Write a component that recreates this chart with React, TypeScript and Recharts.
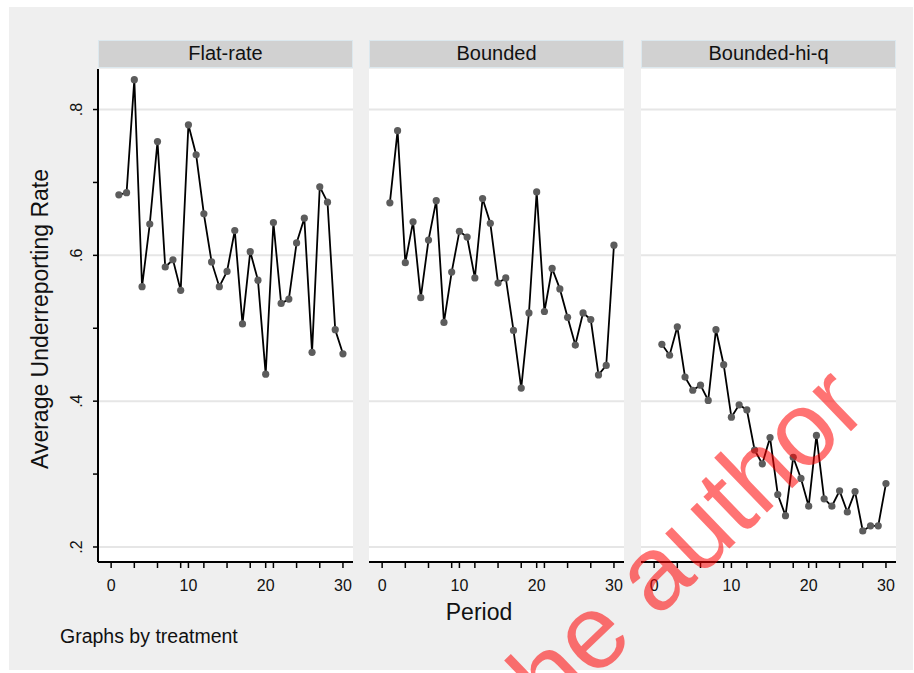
import React from "react";
import { LineChart, Line, XAxis, YAxis, CartesianGrid } from "recharts";

// Average underreporting rate by period, one series per treatment
const periods = [
  1, 2, 3, 4, 5, 6, 7, 8, 9, 10, 11, 12, 13, 14, 15, 16, 17, 18, 19, 20, 21, 22,
  23, 24, 25, 26, 27, 28, 29, 30,
];
const flatRate = [
  0.683, 0.686, 0.841, 0.557, 0.643, 0.756, 0.584, 0.594, 0.552, 0.779, 0.738,
  0.657, 0.591, 0.557, 0.578, 0.634, 0.506, 0.605, 0.566, 0.437, 0.645, 0.534,
  0.54, 0.617, 0.651, 0.467, 0.694, 0.673, 0.498, 0.465,
];
const bounded = [
  0.672, 0.771, 0.59, 0.646, 0.542, 0.621, 0.675, 0.508, 0.577, 0.633, 0.625,
  0.569, 0.678, 0.644, 0.562, 0.569, 0.497, 0.418, 0.521, 0.687, 0.523, 0.582,
  0.554, 0.515, 0.477, 0.521, 0.512, 0.436, 0.449, 0.614,
];
const boundedHiQ = [
  0.478, 0.463, 0.502, 0.433, 0.415, 0.422, 0.401, 0.498, 0.45, 0.378, 0.395,
  0.388, 0.333, 0.314, 0.35, 0.272, 0.243, 0.323, 0.294, 0.256, 0.353, 0.266,
  0.256, 0.277, 0.248, 0.276, 0.222, 0.229, 0.229, 0.287,
];
const panelTitles = ["Flat-rate", "Bounded", "Bounded-hi-q"];
const xTicks = [0, 3, 6, 9, 10, 12, 15, 18, 20, 21, 24, 27, 30];
const xLabels = [0, 10, 20, 30];
const yTicks = [0.2, 0.3, 0.4, 0.5, 0.6, 0.7, 0.8];
const yLabels = [0.2, 0.4, 0.6, 0.8];

const FONT = '"Liberation Sans", Arial, sans-serif';
const PLOT_TOP = 69;
const PLOT_H = 493;
const PLOT_W = 255;
const AXIS_H = 50;
const YAXIS_W = 60;
const panelLefts = [98, 369, 641];

const XTick = ({ x, y, payload }: any) => {
  if (!xLabels.includes(payload.value)) return <g />;
  return (
    <text x={x} y={y + 21} textAnchor="middle" fontSize={16} fontFamily={FONT} fill="#111">
      {payload.value}
    </text>
  );
};

const YTick = ({ y, payload }: any) => {
  if (!yLabels.some((v) => Math.abs(v - payload.value) < 1e-6)) return <g />;
  const bx = YAXIS_W - 16;
  return (
    <text
      x={bx}
      y={y}
      transform={`rotate(-90, ${bx}, ${y})`}
      textAnchor="middle"
      fontSize={16}
      fontFamily={FONT}
      fill="#111"
    >
      {String(payload.value.toFixed(1)).replace(/^0/, "")}
    </text>
  );
};

const Panel = ({ values, left, showY }: { values: number[]; left: number; showY: boolean }) => {
  const data = periods.map((p, i) => ({ period: p, rate: values[i] }));
  const yw = showY ? YAXIS_W : 0;
  return (
    <div style={{ position: "absolute", left: left - yw, top: PLOT_TOP }}>
      <LineChart
        width={PLOT_W + yw}
        height={PLOT_H + AXIS_H}
        data={data}
        margin={{ top: 0, right: 0, bottom: 0, left: 0 }}
      >
        <CartesianGrid
          vertical={false}
          horizontalValues={yLabels}
          stroke="#e6e6e6"
          strokeWidth={2}
          fill="#ffffff"
        />
        <XAxis
          dataKey="period"
          type="number"
          domain={[-1.7, 31.3]}
          allowDataOverflow
          ticks={xTicks}
          interval={0}
          height={AXIS_H}
          tickSize={6}
          tickMargin={2}
          axisLine={{ stroke: "#000", strokeWidth: 2 }}
          tickLine={{ stroke: "#000", strokeWidth: 1.5 }}
          tick={<XTick />}
        />
        <YAxis
          type="number"
          domain={[0.1794, 0.8556]}
          allowDataOverflow
          ticks={yTicks}
          interval={0}
          hide={!showY}
          width={YAXIS_W}
          tickSize={5}
          axisLine={{ stroke: "#000", strokeWidth: 2 }}
          tickLine={{ stroke: "#000", strokeWidth: 1.5 }}
          tick={<YTick />}
        />
        <Line
          type="linear"
          dataKey="rate"
          stroke="#000"
          strokeWidth={1.8}
          dot={{ r: 3.6, fill: "#5c5c5c", stroke: "none" }}
          isAnimationActive={false}
        />
      </LineChart>
    </div>
  );
};

export default function App() {
  const series = [flatRate, bounded, boundedHiQ];
  return (
    <div
      style={{
        position: "absolute",
        left: 0,
        top: 0,
        width: 914,
        height: 673,
        background: "#fff",
        overflow: "hidden",
        fontFamily: FONT,
      }}
    >
      <svg width={914} height={673} style={{ position: "absolute", left: 0, top: 0 }}>
        <rect x={9} y={7} width={904} height={663} fill="#efefef" />
        {panelTitles.map((t, i) => (
          <g key={t}>
            <rect
              x={panelLefts[i] + 0.5}
              y={40.5}
              width={PLOT_W - 1}
              height={27}
              fill="#d1d1d1"
              stroke="#dce8ee"
            />
            <text
              x={panelLefts[i] + PLOT_W / 2}
              y={60}
              textAnchor="middle"
              fontSize={20}
              fontFamily={FONT}
              fill="#111"
            >
              {t}
            </text>
          </g>
        ))}
        <text
          x={48}
          y={319}
          transform="rotate(-90, 48, 319)"
          textAnchor="middle"
          fontSize={23}
          fontFamily={FONT}
          fill="#111"
        >
          Average Underreporting Rate
        </text>
        <text x={479} y={620} textAnchor="middle" fontSize={23} fontFamily={FONT} fill="#111">
          Period
        </text>
        <text x={60} y={643} fontSize={19.5} fontFamily={FONT} fill="#111">
          Graphs by treatment
        </text>
      </svg>
      {series.map((s, i) => (
        <Panel key={i} values={s} left={panelLefts[i]} showY={i === 0} />
      ))}
      <svg
        width={914}
        height={673}
        style={{ position: "absolute", left: 0, top: 0, pointerEvents: "none" }}
      >
        <text
          x={871}
          y={412}
          transform="rotate(-44, 871, 412)"
          textAnchor="end"
          fontSize={105}
          fontFamily={FONT}
          fill="#ff0000"
          fillOpacity={0.55}
        >
          the author
        </text>
      </svg>
    </div>
  );
}
